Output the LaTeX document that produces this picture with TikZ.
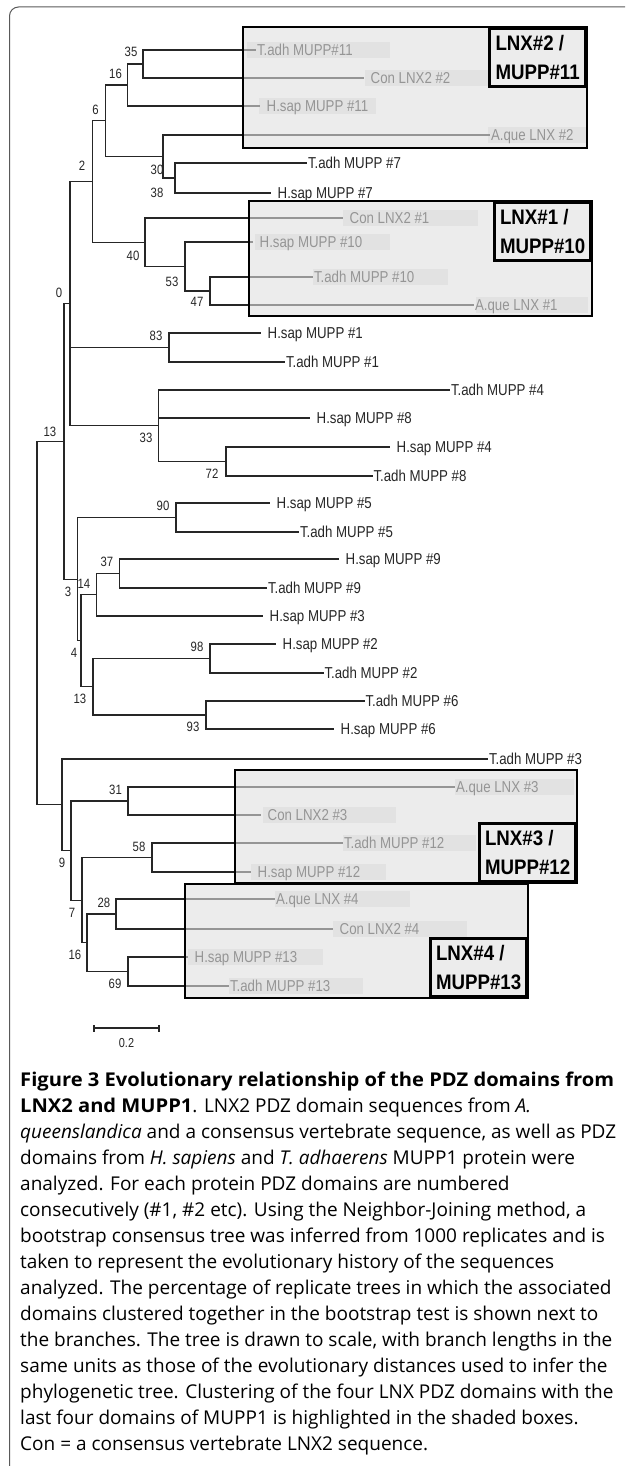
\documentclass[tikz,border=0pt]{standalone}
\usepackage{fontspec}
\setmainfont{Open Sans}
\newfontfamily\capbf[FakeStretch=1.06]{Open Sans}
\newfontfamily\treefont[FakeStretch=0.84]{Liberation Sans}
\newfontfamily\boxfont[FakeStretch=0.89]{Liberation Sans}
\usetikzlibrary{positioning}
\definecolor{boxfill}{gray}{0.875}
\definecolor{labelbg}{gray}{0.91}
\definecolor{treeline}{gray}{0.15}
\newcommand{\capb}[1]{{\capbf\bfseries #1}}

\begin{document}
\begin{tikzpicture}[x=1pt, y=-1pt,
    branch/.style={draw=treeline, line width=1.1pt},
    tleaf/.style={anchor=west, inner xsep=0.8pt, inner ysep=0pt, text height=11.3pt, text depth=0pt,
                  font=\treefont\fontsize{15.8}{16}\selectfont, text=treeline},
    sleaf/.style={tleaf, inner xsep=6.5pt},
    boot/.style={inner sep=0pt, text height=9.5pt, text depth=0pt,
                 font=\treefont\fontsize{13.5}{14}\selectfont, text=treeline},
    shadebox/.style={draw=black, line width=2.8pt, fill=boxfill, fill opacity=0.6},
    lblbox/.style={draw=black, line width=2.8pt, anchor=north east, minimum width=96pt,
                   minimum height=58pt, align=left, inner sep=0pt,
                   font=\boxfont\bfseries\fontsize{21}{29}\selectfont},
    capline/.style={anchor=base west, inner sep=0pt, font=\fontsize{19}{24}\selectfont}]
  \useasboundingbox (0,0) rectangle (625,1466);

  % outer frame, cut by the page
  \begin{scope}
    \clip (0,0) rectangle (625,1466);
    \draw[gray!70!black, line width=1pt, rounded corners=9pt] (9.5,1490) |- (650,7);
  \end{scope}

  % pale patches behind the boxed labels
  \foreach \xa/\xb/\yy in {247/390/50, 365/488/78, 259/376/106, 488/586/135,
                           343/478/218, 255/390/242, 313/448/277, 476/588/305,
                           455/574/787, 263/396/815, 343/476/843, 251/386/872,
                           275/410/899, 333/467/929, 188/323/957, 229/363/986}
    \fill[labelbg] (\xa,\yy-8) rectangle (\xb,\yy+8);

  % internal nodes
  \coordinate (n35) at (143,64);
  \coordinate (n16) at (127.5,85);
  \coordinate (n38) at (175,178);
  \coordinate (n30) at (163,156.5);
  \coordinate (n6)  at (105.6,120.75);
  \coordinate (n47) at (210,291);
  \coordinate (n53) at (185,266.5);
  \coordinate (n40) at (145,242.25);
  \coordinate (n2)  at (92.4,181.5);
  \coordinate (n83) at (169,347.5);
  \coordinate (n72) at (226,461.5);
  \coordinate (n33) at (158.6,425.75);
  \coordinate (n0)  at (70,303.6);
  \coordinate (n90) at (176,517.5);
  \coordinate (n37) at (119.5,573.5);
  \coordinate (n14) at (96.4,594.75);
  \coordinate (n98) at (210,658.5);
  \coordinate (n93) at (206,715);
  \coordinate (n13b) at (93,686.75);
  \coordinate (n4)  at (81,640.75);
  \coordinate (n3)  at (77.7,579.1);
  \coordinate (n13a) at (64,441.35);
  \coordinate (n31) at (128,801);
  \coordinate (n58) at (152,857.5);
  \coordinate (n28) at (116,914);
  \coordinate (n69) at (128,971.5);
  \coordinate (n16b) at (87,942.75);
  \coordinate (n82) at (82,900.1);
  \coordinate (n7)  at (71,850.55);
  \coordinate (n9)  at (62,804.8);
  \coordinate (root) at (37,623);

  % leaves
  \node[tleaf] (tadh11) at (256,50)  {T.adh MUPP\#11};
  \node[sleaf] (con2)   at (364,78)  {Con LNX2 \#2};
  \node[sleaf] (hsap11) at (260,106) {H.sap MUPP \#11};
  \node[tleaf] (aque2)  at (490,135) {A.que LNX \#2};
  \node[tleaf] (tadh7)  at (307,163) {T.adh MUPP \#7};
  \node[sleaf] (hsap7)  at (271,193) {H.sap MUPP \#7};
  \node[sleaf] (con1)   at (343,218) {Con LNX2 \#1};
  \node[sleaf] (hsap10) at (253,242) {H.sap MUPP \#10};
  \node[tleaf] (tadh10) at (313,277) {T.adh MUPP \#10};
  \node[tleaf] (aque1)  at (474,305) {A.que LNX \#1};
  \node[sleaf] (hsap1)  at (261,333) {H.sap MUPP \#1};
  \node[tleaf] (tadh1)  at (285,362) {T.adh MUPP \#1};
  \node[tleaf] (tadh4)  at (450,390) {T.adh MUPP \#4};
  \node[sleaf] (hsap8)  at (310,418) {H.sap MUPP \#8};
  \node[sleaf] (hsap4)  at (390,447) {H.sap MUPP \#4};
  \node[tleaf] (tadh8)  at (372.5,476) {T.adh MUPP \#8};
  \node[sleaf] (hsap5)  at (270,503) {H.sap MUPP \#5};
  \node[tleaf] (tadh5)  at (299,532) {T.adh MUPP \#5};
  \node[sleaf] (hsap9)  at (339,559) {H.sap MUPP \#9};
  \node[tleaf] (tadh9)  at (267,588) {T.adh MUPP \#9};
  \node[sleaf] (hsap3)  at (263,616) {H.sap MUPP \#3};
  \node[sleaf] (hsap2)  at (276,644) {H.sap MUPP \#2};
  \node[tleaf] (tadh2)  at (323.5,673) {T.adh MUPP \#2};
  \node[tleaf] (tadh6)  at (364.5,701) {T.adh MUPP \#6};
  \node[sleaf] (hsap6)  at (334,729) {H.sap MUPP \#6};
  \node[tleaf] (tadh3)  at (488,759) {T.adh MUPP \#3};
  \node[tleaf] (aque3)  at (455,787) {A.que LNX \#3};
  \node[sleaf] (con3)   at (261,815) {Con LNX2 \#3};
  \node[tleaf] (tadh12) at (343,843) {T.adh MUPP \#12};
  \node[sleaf] (hsap12) at (251,872) {H.sap MUPP \#12};
  \node[tleaf] (aque4)  at (275,899) {A.que LNX \#4};
  \node[sleaf] (con4)   at (333,929) {Con LNX2 \#4};
  \node[sleaf] (hsap13) at (188,957) {H.sap MUPP \#13};
  \node[tleaf] (tadh13) at (229,986) {T.adh MUPP \#13};

  % branches
  \draw[branch] (n35) |- (tadh11.west) (n35) |- (con2.west);
  \draw[branch] (n16) |- (n35) (n16) |- (hsap11.west);
  \draw[branch] (n38) |- (tadh7.west) (n38) |- (hsap7.west);
  \draw[branch] (n30) |- (aque2.west) (n30) |- (n38);
  \draw[branch] (n6) |- (n16) (n6) |- (n30);
  \draw[branch] (n47) |- (tadh10.west) (n47) |- (aque1.west);
  \draw[branch] (n53) |- (hsap10.west) (n53) |- (n47);
  \draw[branch] (n40) |- (con1.west) (n40) |- (n53);
  \draw[branch] (n2) |- (n6) (n2) |- (n40);
  \draw[branch] (n83) |- (hsap1.west) (n83) |- (tadh1.west);
  \draw[branch] (n72) |- (hsap4.west) (n72) |- (tadh8.west);
  \draw[branch] (n33) |- (tadh4.west) (n33) |- (hsap8.west) (n33) |- (n72);
  \draw[branch] (n0) |- (n2) (n0) |- (n83) (n0) |- (n33);
  \draw[branch] (n90) |- (hsap5.west) (n90) |- (tadh5.west);
  \draw[branch] (n37) |- (hsap9.west) (n37) |- (tadh9.west);
  \draw[branch] (n14) |- (n37) (n14) |- (hsap3.west);
  \draw[branch] (n98) |- (hsap2.west) (n98) |- (tadh2.west);
  \draw[branch] (n93) |- (tadh6.west) (n93) |- (hsap6.west);
  \draw[branch] (n13b) |- (n98) (n13b) |- (n93);
  \draw[branch] (n4) |- (n14) (n4) |- (n13b);
  \draw[branch] (n3) |- (n90) (n3) |- (n4);
  \draw[branch] (n13a) |- (n0) (n13a) |- (n3);
  \draw[branch] (n31) |- (aque3.west) (n31) |- (con3.west);
  \draw[branch] (n58) |- (tadh12.west) (n58) |- (hsap12.west);
  \draw[branch] (n28) |- (aque4.west) (n28) |- (con4.west);
  \draw[branch] (n69) |- (hsap13.west) (n69) |- (tadh13.west);
  \draw[branch] (n16b) |- (n28) (n16b) |- (n69);
  \draw[branch] (n82) |- (n58) (n82) |- (n16b);
  \draw[branch] (n7) |- (n31) (n7) |- (n82);
  \draw[branch] (n9) |- (tadh3.west) (n9) |- (n7);
  \draw[branch] (root) |- (n13a) (root) |- (n9);

  % bootstrap values
  \node[boot] (b35) at (131,52) {35};
  \node[boot] (b16) at (115.5,74) {16};
  \node[boot] (b6)  at (95.6,110) {6};
  \node[boot] (b30) at (157,170) {30};
  \node[boot] (b38) at (157,193) {38};
  \node[boot] (b2)  at (82,166) {2};
  \node[boot] (b40) at (133,256) {40};
  \node[boot] (b53) at (172,282) {53};
  \node[boot] (b47) at (197,302) {47};
  \node[boot] (b0)  at (59,293) {0};
  \node[boot] (b83) at (156,336) {83};
  \node[boot] (b33) at (146,438) {33};
  \node[boot] (b72) at (212,474) {72};
  \node[boot] (b13a) at (50,432) {13};
  \node[boot] (b90) at (163,506) {90};
  \node[boot] (b37) at (107,562) {37};
  \node[boot] (b14) at (84,584) {14};
  \node[boot] (b3)  at (68,592) {3};
  \node[boot] (b4)  at (74,653) {4};
  \node[boot] (b98) at (197,647) {98};
  \node[boot] (b13b) at (80,699) {13};
  \node[boot] (b93) at (193,727) {93};
  \node[boot] (b31) at (115.5,790) {31};
  \node[boot] (b58) at (139,847) {58};
  \node[boot] (b9)  at (62,863) {9};
  \node[boot] (b28) at (104,903) {28};
  \node[boot] (b7)  at (72,913) {7};
  \node[boot] (b16b) at (75,955) {16};
  \node[boot] (b69) at (115,984) {69};

  % shaded clusters
  \draw[shadebox] (243,27) rectangle (587,148);
  \draw[shadebox] (249,201) rectangle (592,316);
  \draw[shadebox] (235,770) rectangle (577,883);
  \draw[shadebox] (185,884) rectangle (528,998);
  \node[lblbox] (lab2) at (587,27)  {LNX\#2 /\\MUPP\#11};
  \node[lblbox] (lab1) at (592,201) {LNX\#1 /\\MUPP\#10};
  \node[lblbox, anchor=south east] (lab3) at (577,883) {LNX\#3 /\\MUPP\#12};
  \node[lblbox, anchor=south east] (lab4) at (528,998) {LNX\#4 /\\MUPP\#13};

  % scale bar
  \coordinate (sbl) at (94,1028);
  \coordinate (sbr) at (159,1028);
  \draw[branch] (sbl) -- (sbr);
  \draw[branch] ([yshift=-3.5pt]sbl) -- ([yshift=3.5pt]sbl);
  \draw[branch] ([yshift=-3.5pt]sbr) -- ([yshift=3.5pt]sbr);
  \node[boot, font=\treefont\fontsize{13}{14}\selectfont] (sblab) at (126.5,1043) {0.2};

  % caption
  \foreach \capt [count=\i] in {
    {\capb{Figure 3 Evolutionary relationship of the PDZ domains from}},
    {\capb{LNX2 and MUPP1}. LNX2 PDZ domain sequences from \textit{A.}},
    {\textit{queenslandica} and a consensus vertebrate sequence, as well as PDZ},
    {domains from \textit{H. sapiens} and \textit{T. adhaerens} MUPP1 protein were},
    {analyzed. For each protein PDZ domains are numbered},
    {consecutively (\#1, \#2 etc). Using the Neighbor-Joining method, a},
    {bootstrap consensus tree was inferred from 1000 replicates and is},
    {taken to represent the evolutionary history of the sequences},
    {analyzed. The percentage of replicate trees in which the associated},
    {domains clustered together in the bootstrap test is shown next to},
    {the branches. The tree is drawn to scale, with branch lengths in the},
    {same units as those of the evolutionary distances used to infer the},
    {phylogenetic tree. Clustering of the four LNX PDZ domains with the},
    {last four domains of MUPP1 is highlighted in the shaded boxes.},
    {Con = a consensus vertebrate LNX2 sequence.}}
    \node[capline] (cap\i) at (20,1086+26*\i-26) {\capt};
\end{tikzpicture}
\end{document}
